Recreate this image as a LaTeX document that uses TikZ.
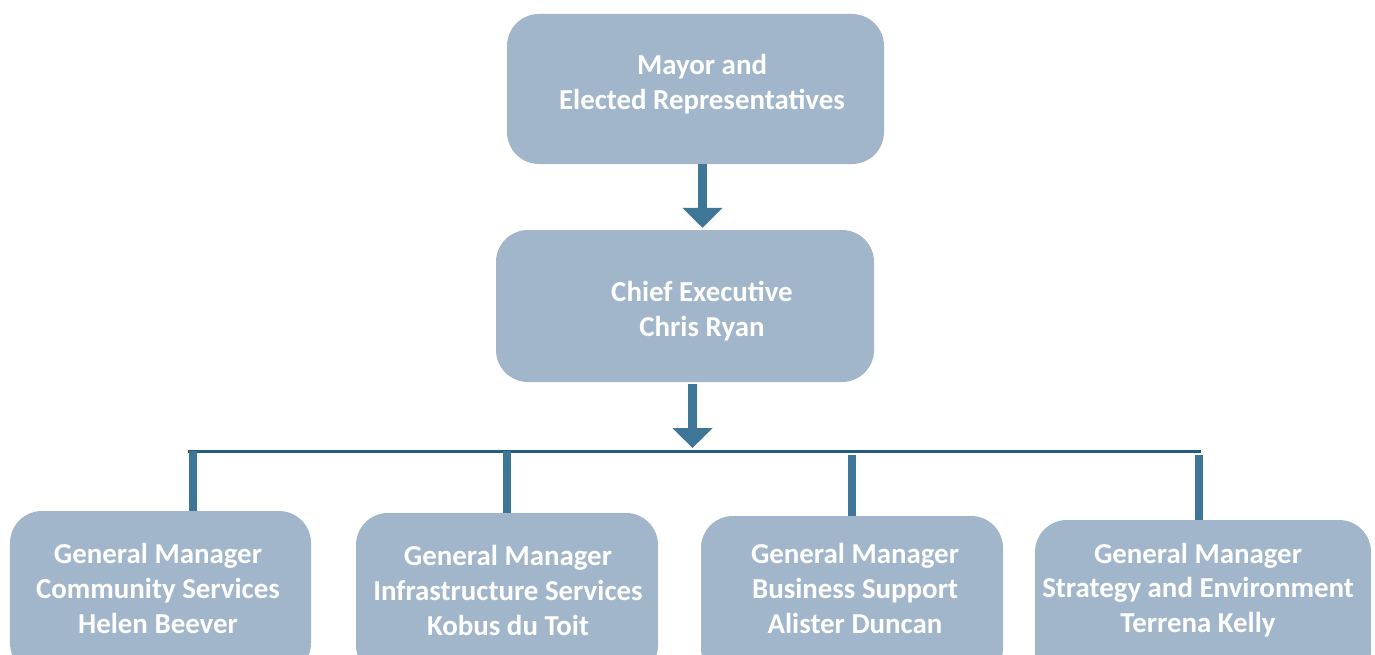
\documentclass[tikz,border=0pt]{standalone}
\usepackage{fontspec}
\setmainfont{Carlito}
\usetikzlibrary{arrows.meta,calc}
\definecolor{boxfill}{HTML}{A1B6CA}
\definecolor{arrowc}{HTML}{3E7698}
\definecolor{barc}{HTML}{245C7E}
\begin{document}
\begin{tikzpicture}[x=1bp,y=-1bp,
  orgbox/.style={fill=boxfill, rounded corners=32bp, inner sep=0pt},
  txt/.style={text=white, font=\fontsize{29}{35}\selectfont\bfseries, align=center, inner sep=0pt},
  bigarrow/.style={draw=arrowc, line width=9.5bp, -{Triangle[width=39bp,length=20bp]}},
  conn/.style={draw=arrowc, line width=8bp},
  hbar/.style={draw=barc, line width=3bp}]
\path[use as bounding box, clip] (0,0) rectangle (1375,655);
% boxes
\node[orgbox, minimum width=377bp, minimum height=150bp] (mayor) at (695.5,89) {};
\node[orgbox, minimum width=378bp, minimum height=152bp] (ceo) at (685,306) {};
\node[orgbox, minimum width=301bp, minimum height=164bp] (gm1) at (160.5,593) {};
\node[orgbox, minimum width=302bp, minimum height=164bp] (gm2) at (507,595) {};
\node[orgbox, minimum width=302bp, minimum height=164bp] (gm3) at (852,598) {};
\node[orgbox, minimum width=336bp, minimum height=164bp] (gm4) at (1203,602) {};
% texts
\node[txt] (mayortxt) at (702,84) {Mayor and\\Elected Representatives};
\node[txt] (ceotxt) at (702,311) {Chief Executive\\Chris Ryan};
\node[txt] (gm1txt) at (158,588.5) {General Manager\\Community Services\\Helen Beever};
\node[txt] (gm2txt) at (508,590.5) {General Manager\\Infrastructure Services\\Kobus du Toit};
\node[txt] (gm3txt) at (855,588.5) {General Manager\\Business Support\\Alister Duncan};
\node[txt] (gm4txt) at (1198,590) {General Manager\\Strategy and Environment\\Terrena Kelly};
% arrows
\draw[bigarrow] ($(mayor.south)+(7,0)$) -- ($(ceo.north)+(17.5,-2)$);
\coordinate (barL) at (188,451);
\coordinate (barR) at (1201,451);
\draw[bigarrow] ($(ceo.south)+(7.5,2)$) -- ($(ceo.south |- barL)+(7.5,-3)$);
\draw[hbar] (barL) -- (barR);
% connectors
\coordinate (c1) at (192.5,451);
\coordinate (c2) at (507,451);
\coordinate (c3) at (852,455);
\coordinate (c4) at (1198.5,455);
\draw[conn] (c1) -- (c1 |- gm1.north);
\draw[conn] (c2) -- (c2 |- gm2.north);
\draw[conn] (c3) -- (c3 |- gm3.north);
\draw[conn] (c4) -- (c4 |- gm4.north);
\end{tikzpicture}
\end{document}
